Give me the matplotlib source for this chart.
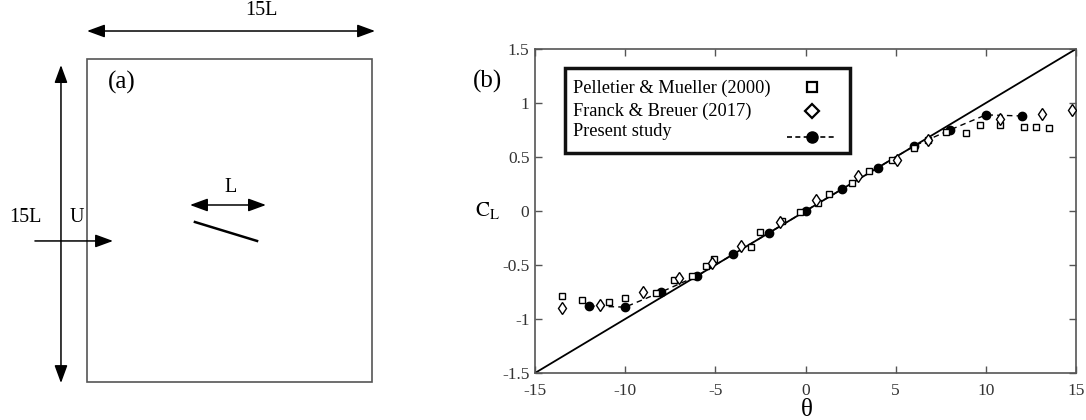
import matplotlib
matplotlib.use('Agg')
import matplotlib.pyplot as plt
import numpy as np
from matplotlib.patches import Rectangle
from matplotlib.lines import Line2D

plt.rcParams['font.family'] = ['Liberation Serif', 'DejaVu Serif']
plt.rcParams['mathtext.fontset'] = 'stix'
plt.rcParams['axes.unicode_minus'] = False

# (b) lift coefficient vs angle of attack
line_theta = [-15, 15]
line_cl = [-1.5, 1.5]

# Pelletier & Mueller (2000)
pm_theta = [-13.5, -12.4, -10.9, -10.0, -8.3, -7.3, -6.3, -5.5, -5.1, -3.0, -2.5, -1.3,
            -0.3, 0.7, 1.3, 2.6, 3.5, 4.8, 6.0, 6.8, 7.8, 8.9, 9.7, 10.8, 12.1, 12.8, 13.5]
pm_cl = [-0.79, -0.82, -0.84, -0.81, -0.76, -0.64, -0.60, -0.51, -0.44, -0.33, -0.19, -0.09,
         -0.01, 0.07, 0.16, 0.26, 0.37, 0.47, 0.58, 0.66, 0.73, 0.72, 0.80, 0.80, 0.78, 0.78, 0.77]

# Franck & Breuer (2017)
fb_theta = [-13.5, -11.4, -9.0, -7.0, -5.2, -3.6, -1.4, 0.6, 2.9, 5.1, 6.8, 10.8, 13.1, 14.8]
fb_cl = [-0.90, -0.87, -0.75, -0.62, -0.48, -0.32, -0.10, 0.10, 0.32, 0.47, 0.66, 0.85, 0.90, 0.935]

# Present study
ps_theta = [-12, -10, -8, -6, -4, -2, 0, 2, 4, 6, 8, 10, 12]
ps_cl = [-0.88, -0.89, -0.75, -0.60, -0.40, -0.20, 0.0, 0.20, 0.40, 0.60, 0.75, 0.89, 0.88]

legend_labels = ['Pelletier & Mueller (2000)', 'Franck & Breuer (2017)', 'Present study']

W, H = 1086, 420
fig = plt.figure(figsize=(W / 100, H / 100), dpi=100)

# ---------------- (a) computational domain sketch ----------------
domain = 15
gray = '#555555'
ax0 = fig.add_axes([87 / W, 38 / H, 285 / W, 323 / H])
ax0.set_xlim(0, domain)
ax0.set_ylim(0, domain)
ax0.axis('off')

ax0.add_patch(Rectangle((0, 0), domain, domain, fill=False, ec=gray, lw=1.2, clip_on=False))

arrow2 = dict(arrowstyle='<|-|>,head_length=0.6,head_width=0.22', color='k', lw=1.1,
              shrinkA=0, shrinkB=0, mutation_scale=18)
arrow1 = dict(arrowstyle='-|>,head_length=0.6,head_width=0.22', color='k', lw=1.1,
              shrinkA=0, shrinkB=0, mutation_scale=18)

# top 15L
ax0.annotate('', xy=(15.16, 16.3), xytext=(0, 16.3), arrowprops=arrow2, annotation_clip=False)
ax0.text(9.2, 17.25, '15L', ha='center', va='center', fontsize=14.5)
# left 15L
ax0.annotate('', xy=(-1.37, 14.72), xytext=(-1.37, -0.05), arrowprops=arrow2, annotation_clip=False)
ax0.text(-3.26, 7.66, '15L', ha='center', va='center', fontsize=14.5)
# inflow U
ax0.annotate('', xy=(1.37, 6.55), xytext=(-2.74, 6.55), arrowprops=arrow1, annotation_clip=False)
ax0.text(-0.53, 7.62, 'U', ha='center', va='center', fontsize=14.5)
# plate and chord length
ax0.annotate('', xy=(9.42, 8.22), xytext=(5.42, 8.22), arrowprops=arrow2, annotation_clip=False)
ax0.text(7.53, 9.05, 'L', ha='center', va='center', fontsize=14.5)
ax0.plot([5.68, 8.95], [7.43, 6.55], color='k', lw=1.8, clip_on=False)
ax0.text(1.84, 13.9, '(a)', ha='center', va='center', fontsize=18)

# ---------------- (b) CL vs theta ----------------
ax = fig.add_axes([535 / W, 47 / H, 541 / W, 324 / H])
ax.plot(line_theta, line_cl, color='k', lw=1.3, zorder=2)
ax.plot(ps_theta, ps_cl, ls=(0, (4, 3)), color='k', lw=1.0, marker='o', ms=6,
        mfc='k', mec='k', zorder=3)
ax.plot(pm_theta, pm_cl, ls='none', marker='s', ms=5, mfc='white', mec='k', mew=1.0, zorder=4)
ax.plot(fb_theta, fb_cl, ls='none', marker='d', ms=6.5, mfc='white', mec='k', mew=1.0, zorder=4)

ax.set_xlim(-15, 15)
ax.set_ylim(-1.5, 1.5)
ax.set_xticks(np.arange(-15, 16, 5))
ax.set_yticks(np.arange(-1.5, 1.51, 0.5))
ax.set_xticklabels([f'{v:g}' for v in np.arange(-15, 16, 5)])
ax.set_yticklabels([f'{v:g}' for v in np.arange(-1.5, 1.51, 0.5)])
ax.tick_params(direction='in', top=True, right=True, length=5, width=1, color=gray,
               labelcolor='#333333', labelsize=12.5, pad=4)
ax.tick_params(axis='x', pad=7)
for s in ax.spines.values():
    s.set_color(gray)
    s.set_linewidth(1.2)

ax.text(-0.087, 0.50, r'$\mathrm{C_L}$', transform=ax.transAxes, ha='center', va='center',
        fontsize=15)
ax.text(0.503, -0.115, 'θ', transform=ax.transAxes, ha='center', va='center', fontsize=18)
ax.text(-0.087, 0.900, '(b)', transform=ax.transAxes, ha='center', va='center', fontsize=18)

# legend drawn by hand: text left, symbols right
ax.add_patch(Rectangle((0.0555, 0.679), 0.5265, 0.262, transform=ax.transAxes,
                       fc='white', ec='#111111', lw=2.5, zorder=6))
text_y = [0.880, 0.809, 0.744]
for lab, ty in zip(legend_labels, text_y):
    ax.text(0.070, ty, lab, transform=ax.transAxes, ha='left', va='center',
            fontsize=13.2, zorder=7)
ax.add_line(Line2D([0.512], [0.884], transform=ax.transAxes, ls='none', marker='s', ms=7.5,
                   mfc='white', mec='k', mew=1.6, zorder=7))
ax.add_line(Line2D([0.512], [0.810], transform=ax.transAxes, ls='none', marker='D', ms=7.5,
                   mfc='white', mec='k', mew=1.6, zorder=7))
ax.add_line(Line2D([0.466, 0.512, 0.558], [0.729, 0.729, 0.729], transform=ax.transAxes,
                   ls=(0, (3, 2)), color='k', lw=1.2, marker='o', ms=8, markevery=[1],
                   mfc='k', mec='k', zorder=7))

fig.savefig('out.png', dpi=100)
